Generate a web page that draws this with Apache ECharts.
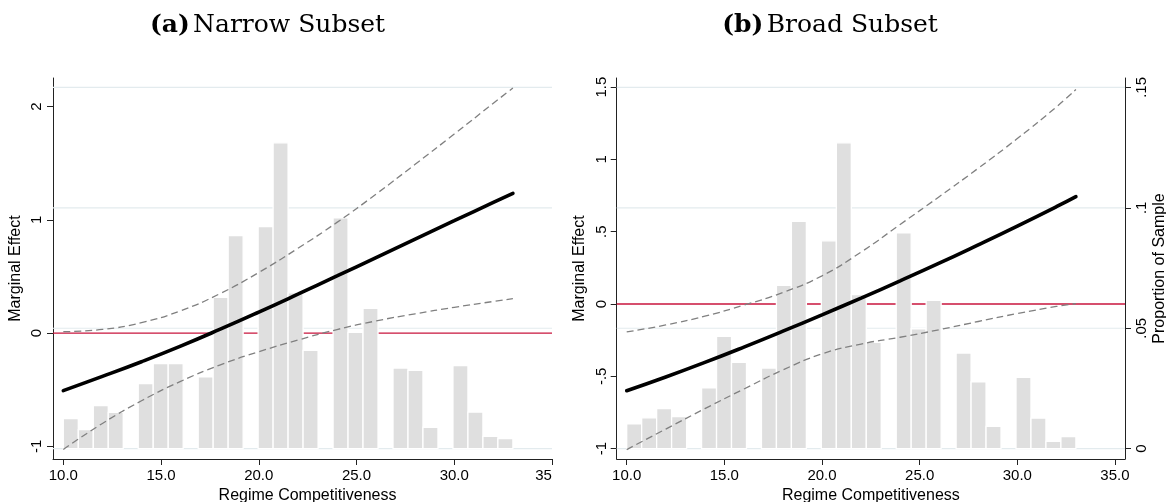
<!DOCTYPE html>
<html>
<head>
<meta charset="utf-8">
<script src="https://cdn.jsdelivr.net/npm/echarts@6/dist/echarts.min.js"></script>
<style>
html,body{margin:0;padding:0;background:#fff;}
#chart{width:1166px;height:502px;}
</style>
</head>
<body>
<div id="chart"></div>
<script>
// ---- data ----
const panelTitles = ['Narrow Subset', 'Broad Subset'];
const panelTags = ['(a)', '(b)'];
const xTitle = 'Regime Competitiveness';
const yTitle = 'Marginal Effect';
const y2Title = 'Proportion of Sample';

const xTicksNarrow = [10, 15, 20, 25, 30, 35];
const xTicksBroad = [10, 15, 20, 25, 30, 35];
const yTicksNarrow = [-1, 0, 1, 2];
const yTicksBroad = [-1, -0.5, 0, 0.5, 1, 1.5];
const propTicks = [0, 0.05, 0.1, 0.15];

// moderator values where effects are evaluated
const xLine = [10, 12, 14, 16, 18, 20, 22, 24, 26, 28, 30, 32, 33];
const meNarrow = [-0.507, -0.382, -0.252, -0.114, 0.033, 0.186, 0.344, 0.505, 0.668, 0.831, 0.993, 1.155, 1.235];
const hiNarrow = [0.013, 0.033, 0.093, 0.198, 0.348, 0.536, 0.749, 0.978, 1.228, 1.491, 1.758, 2.030, 2.165];
const loNarrow = [-1.027, -0.797, -0.597, -0.426, -0.282, -0.164, -0.061, 0.032, 0.108, 0.171, 0.228, 0.280, 0.305];
const meBroad = [-0.600, -0.505, -0.404, -0.298, -0.188, -0.075, 0.041, 0.160, 0.282, 0.409, 0.539, 0.673, 0.743];
const hiBroad = [-0.193, -0.145, -0.084, -0.008, 0.080, 0.195, 0.359, 0.550, 0.742, 0.939, 1.144, 1.363, 1.483];
const loBroad = [-1.007, -0.865, -0.724, -0.588, -0.456, -0.345, -0.277, -0.230, -0.178, -0.121, -0.066, -0.017, 0.003];

// histogram: 30 bins from 10 to 33, proportion of sample
const histMin = 10, histMax = 33;
const propNarrow = [0.0125, 0.0079, 0.0179, 0.0151, 0, 0.027, 0.0353, 0.0353, 0, 0.0298, 0.0628, 0.0885, 0, 0.0922, 0.127, 0.0647, 0.0408, 0, 0.0958, 0.0483, 0.0583, 0, 0.0335, 0.0325, 0.0089, 0, 0.0345, 0.0152, 0.0051, 0.0042];
const propBroad = [0.0103, 0.0128, 0.0166, 0.0133, 0, 0.0253, 0.0466, 0.0358, 0, 0.0335, 0.0678, 0.0944, 0, 0.0863, 0.127, 0.064, 0.0441, 0, 0.0896, 0.0498, 0.0616, 0, 0.0397, 0.0277, 0.0093, 0, 0.0296, 0.0127, 0.003, 0.005];

// axis ranges
const xRangeNarrow = [9.473, 35];
const xRangeBroad = [9.488, 35.514];
const yRangeNarrow = [-1.111, 2.253];
const yRangeBroad = [-1.072, 1.563];
const propRange = [-0.00428, 0.1539];

// ---- styles ----
const SANS = 'Liberation Sans, Arial, Helvetica, sans-serif';
const SERIF = 'DejaVu Serif, serif';
const AX = '#222';
const GRIDC = '#e3ebee';
const BARC = '#dfdfdf';
const REDC = '#c8143c';

function stataFmt(v) {
  return String(+v.toFixed(4)).replace(/^(-?)0\./, '$1.');
}

function pairs(xs, ys) { return xs.map((x, i) => [x, ys[i]]); }
function histData(props) {
  const n = props.length, w = (histMax - histMin) / n;
  return props.map((p, i) => [histMin + i * w, histMin + (i + 1) * w, p]);
}

const baseLabel = { fontFamily: SANS, fontSize: 15, color: '#000' };
const baseName = { fontFamily: SANS, fontSize: 16, color: '#000' };

function xAxisCfg(gi, range, ticks, isNarrow) {
  return {
    type: 'value', gridIndex: gi, min: range[0], max: range[1],
    name: xTitle, nameLocation: 'middle', nameGap: 24,
    nameTextStyle: Object.assign({}, baseName, isNarrow ? { padding: [0, 0, 0, 10] } : {}),
    axisLine: { show: true, onZero: false, lineStyle: { color: AX, width: 1 } },
    axisTick: { show: true, length: 6, customValues: ticks, lineStyle: { color: AX } },
    axisLabel: Object.assign({}, baseLabel, {
      margin: 9, customValues: ticks,
      formatter: v => (isNarrow && v === 35) ? '{r|35}' : v.toFixed(1),
      rich: { r: { fontFamily: SANS, fontSize: 15, color: '#000', padding: [0, 17, 0, 0] } }
    }),
    splitLine: { show: false }
  };
}

function yAxisCfg(gi, range, ticks, margin) {
  return {
    type: 'value', gridIndex: gi, min: range[0], max: range[1], position: 'left',
    name: yTitle, nameLocation: 'middle', nameGap: 29, nameRotate: 90, nameTextStyle: baseName,
    axisLine: { show: true, onZero: false, lineStyle: { color: AX, width: 1 } },
    axisTick: { show: true, length: 6, customValues: ticks, lineStyle: { color: AX } },
    axisLabel: Object.assign({}, baseLabel, { rotate: 90, margin: margin, customValues: ticks, formatter: stataFmt }),
    splitLine: { show: false }
  };
}

function gridLineSeries(xi, yi, xr) {
  return propTicks.map(v => ({
    type: 'line', xAxisIndex: xi, yAxisIndex: yi, z: 1, silent: true, symbol: 'none',
    data: [[xr[0], v], [xr[1], v]], lineStyle: { color: GRIDC, width: 1.2 }
  }));
}

const curveSmooth = 0.5;

function panelSeries(xi, yi, yi2, xr, props, me, hi, lo) {
  return [].concat(gridLineSeries(xi, yi2, xr), [
    { type: 'line', xAxisIndex: xi, yAxisIndex: yi, z: 2, silent: true, symbol: 'none',
      data: [[xr[0], 0], [xr[1], 0]], lineStyle: { color: REDC, width: 1.3 } },
    { type: 'custom', xAxisIndex: xi, yAxisIndex: yi2, z: 3, silent: true,
      data: histData(props), encode: { x: [0, 1], y: 2 },
      renderItem: function (params, api) {
        const p = api.value(2);
        if (!(p > 0)) return null;
        const a = api.coord([api.value(0), p]);
        const b = api.coord([api.value(1), 0]);
        return { type: 'rect', shape: { x: a[0], y: a[1], width: b[0] - a[0], height: b[1] - a[1] },
          style: { fill: BARC, stroke: '#fff', lineWidth: 1.3 } };
      } },
    { type: 'line', xAxisIndex: xi, yAxisIndex: yi, z: 4, silent: true, symbol: 'none',
      smooth: curveSmooth,
      data: pairs(xLine, hi), lineStyle: { color: '#808080', width: 1.3, type: [7, 4] } },
    { type: 'line', xAxisIndex: xi, yAxisIndex: yi, z: 4, silent: true, symbol: 'none',
      smooth: curveSmooth,
      data: pairs(xLine, lo), lineStyle: { color: '#808080', width: 1.3, type: [7, 4] } },
    { type: 'line', xAxisIndex: xi, yAxisIndex: yi, z: 5, silent: true, symbol: 'none',
      smooth: curveSmooth,
      data: pairs(xLine, me), lineStyle: { color: '#000', width: 3.6, cap: 'round' } }
  ]);
}

const chart = echarts.init(document.getElementById('chart'), null, { renderer: 'canvas' });

const titleRich = {
  b: { fontFamily: SERIF, fontSize: 25, fontWeight: 'bold', fill: '#000' },
  n: { fontFamily: SERIF, fontSize: 25, fontWeight: 'normal', fill: '#000' }
};

chart.setOption({
  animation: false,
  backgroundColor: '#fff',
  grid: [
    { left: 53, top: 78, width: 499, height: 381, containLabel: false, outerBoundsMode: 'none' },
    { left: 616.7, top: 78, width: 508.3, height: 381, containLabel: false, outerBoundsMode: 'none' }
  ],
  xAxis: [
    xAxisCfg(0, xRangeNarrow, xTicksNarrow, true),
    xAxisCfg(1, xRangeBroad, xTicksBroad, false)
  ],
  yAxis: [
    yAxisCfg(0, yRangeNarrow, yTicksNarrow, 9),
    { type: 'value', gridIndex: 0, min: propRange[0], max: propRange[1], position: 'right', show: false,
      axisLine: { show: false }, axisTick: { show: false }, axisLabel: { show: false }, splitLine: { show: false } },
    yAxisCfg(1, yRangeBroad, yTicksBroad, 7),
    { type: 'value', gridIndex: 1, min: propRange[0], max: propRange[1], position: 'right',
      name: y2Title, nameLocation: 'middle', nameGap: 27, nameRotate: 90, nameTextStyle: baseName,
      axisLine: { show: true, onZero: false, lineStyle: { color: AX, width: 1 } },
      axisTick: { show: true, length: 6, customValues: propTicks, lineStyle: { color: AX } },
      axisLabel: Object.assign({}, baseLabel, { rotate: 90, margin: 9, customValues: propTicks, formatter: stataFmt }),
      splitLine: { show: false } }
  ],
  series: [].concat(
    panelSeries(0, 0, 1, xRangeNarrow, propNarrow, meNarrow, hiNarrow, loNarrow),
    panelSeries(1, 2, 3, xRangeBroad, propBroad, meBroad, hiBroad, loBroad)
  ),
  graphic: [
    { type: 'text', x: 267.5, y: 25, silent: true,
      style: { text: '{b|' + panelTags[0] + '} {n|' + panelTitles[0] + '}', align: 'center', verticalAlign: 'middle', rich: titleRich } },
    { type: 'text', x: 830, y: 25, silent: true,
      style: { text: '{b|' + panelTags[1] + '} {n|' + panelTitles[1] + '}', align: 'center', verticalAlign: 'middle', rich: titleRich } }
  ]
});
</script>
</body>
</html>
